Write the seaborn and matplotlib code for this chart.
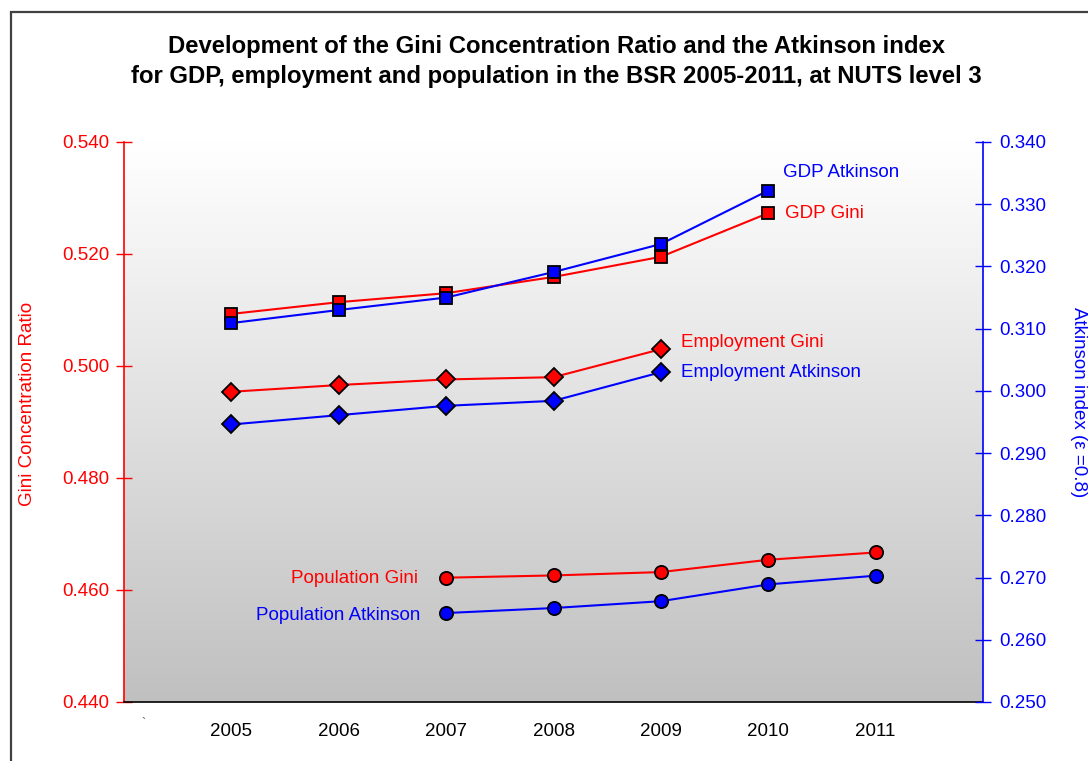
import numpy as np
import pandas as pd
import matplotlib
matplotlib.use("Agg")
import matplotlib.pyplot as plt
import seaborn as sns
from matplotlib.patches import Rectangle

# ---- data -------------------------------------------------------------
years_gdp = [2005, 2006, 2007, 2008, 2009, 2010]
years_emp = [2005, 2006, 2007, 2008, 2009]
years_pop = [2007, 2008, 2009, 2010, 2011]

gdp_gini = [0.5093, 0.5114, 0.5130, 0.5159, 0.5195, 0.5273]
gdp_atkinson = [0.3109, 0.3130, 0.3150, 0.3191, 0.3236, 0.3322]
emp_gini = [0.4954, 0.4966, 0.4976, 0.4980, 0.5030]
emp_atkinson = [0.2946, 0.2961, 0.2976, 0.2984, 0.3030]
pop_gini = [0.4622, 0.4626, 0.4632, 0.4654, 0.4667]
pop_atkinson = [0.2643, 0.2651, 0.2662, 0.2689, 0.2703]

year_ticks = [2005, 2006, 2007, 2008, 2009, 2010, 2011]
gini_ticks = [0.440, 0.460, 0.480, 0.500, 0.520, 0.540]
atk_ticks = [0.250, 0.260, 0.270, 0.280, 0.290, 0.300, 0.310, 0.320, 0.330, 0.340]

title_1 = "Development of the Gini Concentration Ratio and the Atkinson index"
title_2 = "for GDP, employment and population in the BSR 2005-2011, at NUTS level 3"

# ---- style ------------------------------------------------------------
sns.set_style("white")
plt.rcParams["font.family"] = ["Liberation Sans", "DejaVu Sans"]
plt.rcParams["text.color"] = "black"
FS = 13.5
RED = "#FF0000"
BLUE = "#0000FF"

fig = plt.figure(figsize=(10.88, 7.61), dpi=100)
W, H = 1088, 761
L, R, T, B = 124, 983, 142, 702
ax = fig.add_axes([L / W, 1 - B / H, (R - L) / W, (B - T) / H])
ax2 = ax.twinx()

x_lo, x_hi = 2004, 2012
g_lo, g_hi = 0.440, 0.540
a_lo, a_hi = 0.250, 0.340

# vertical grey gradient behind the plot
grad = np.linspace(1.0, 0.753, 256)
img = np.dstack([grad, grad, grad]).reshape(256, 1, 3)
ax.imshow(img, extent=[x_lo, x_hi, g_lo, g_hi], aspect="auto",
          origin="upper", zorder=0, interpolation="bicubic")

line_kw = dict(linewidth=1.5, markeredgecolor="black", markeredgewidth=1.3)

def draw(axis, xs, ys, color, marker, size):
    df = pd.DataFrame({"year": xs, "value": ys})
    sns.lineplot(data=df, x="year", y="value", ax=axis, color=color,
                 marker=marker, markersize=size, zorder=3, **line_kw)

draw(ax, years_gdp, gdp_gini, RED, "s", 8.5)
draw(ax, years_emp, emp_gini, RED, "D", 9.0)
draw(ax, years_pop, pop_gini, RED, "o", 9.5)
draw(ax2, years_gdp, gdp_atkinson, BLUE, "s", 8.5)
draw(ax2, years_emp, emp_atkinson, BLUE, "D", 9.0)
draw(ax2, years_pop, pop_atkinson, BLUE, "o", 9.5)

# ---- axes -------------------------------------------------------------
ax.set_xlim(x_lo, x_hi)
ax.set_ylim(g_lo, g_hi)
ax2.set_ylim(a_lo, a_hi)

ax.set_xticks([x_lo] + year_ticks)
ax.set_xticklabels([""] + [str(y) for y in year_ticks], fontsize=FS)
ax.set_yticks(gini_ticks)
ax.set_yticklabels([f"{v:.3f}" for v in gini_ticks], fontsize=FS, color=RED)
ax2.set_yticks(atk_ticks)
ax2.set_yticklabels([f"{v:.3f}" for v in atk_ticks], fontsize=FS, color=BLUE)

ax.set_xlabel("")
ax.set_ylabel("")
ax2.set_ylabel("")

ax.tick_params(axis="x", direction="inout", length=12, width=1.2,
               color="#444444", pad=9, labelcolor="black")
ax.tick_params(axis="y", direction="inout", length=11, width=1.0,
               color=RED, pad=5)
ax2.tick_params(axis="y", direction="inout", length=11, width=1.0,
                color=BLUE, pad=6)

for s in ("top", "right"):
    ax.spines[s].set_visible(False)
ax.spines["left"].set_color(RED)
ax.spines["left"].set_linewidth(1.2)
ax.spines["bottom"].set_color("black")
ax.spines["bottom"].set_linewidth(1.2)
for s in ("top", "left", "bottom"):
    ax2.spines[s].set_visible(False)
ax2.spines["right"].set_color(BLUE)
ax2.spines["right"].set_linewidth(1.2)

# ---- series labels ----------------------------------------------------
def label(axis, text, x, y, color, dx, dy, ha="left"):
    axis.annotate(text, xy=(x, y), xytext=(dx, dy), textcoords="offset pixels",
                  ha=ha, va="center", fontsize=FS, color=color, zorder=5)

label(ax2, "GDP Atkinson", years_gdp[-1], gdp_atkinson[-1], BLUE, 15, 18)
label(ax, "GDP Gini", years_gdp[-1], gdp_gini[-1], RED, 17, 0)
label(ax, "Employment Gini", years_emp[-1], emp_gini[-1], RED, 20, 7)
label(ax2, "Employment Atkinson", years_emp[-1], emp_atkinson[-1], BLUE, 20, 0)
label(ax, "Population Gini", years_pop[0], pop_gini[0], RED, -28, -1, ha="right")
label(ax2, "Population Atkinson", years_pop[0], pop_atkinson[0], BLUE, -26, -2, ha="right")

ax.annotate("`", xy=(2004.18, 0), xycoords=("data", "axes fraction"),
            xytext=(0, -22), textcoords="offset pixels", ha="center",
            va="center", fontsize=9, color="#555555")

# ---- titles and axis titles ------------------------------------------
fig.text(556.5 / W, 1 - 46 / H, title_1, ha="center", va="center",
         fontsize=17.2, fontweight="bold", color="black")
fig.text(556.5 / W, 1 - 76 / H, title_2, ha="center", va="center",
         fontsize=17.2, fontweight="bold", color="black")
fig.text(28 / W, 1 - 404 / H, "Gini Concentration Ratio", rotation=90,
         ha="center", va="center", fontsize=FS, color=RED)
fig.text(1078 / W, 1 - 402 / H, "Atkinson index (\u03b5 =0.8)", rotation=270,
         ha="center", va="center", fontsize=FS, color=BLUE)

# outer frame of the chart area
fig.add_artist(Rectangle((11 / W, -0.05), 1.2, 1 - 12 / H + 0.05,
                         transform=fig.transFigure, fill=False,
                         edgecolor="#404040", linewidth=1.6))

fig.savefig("out.png", dpi=100)
